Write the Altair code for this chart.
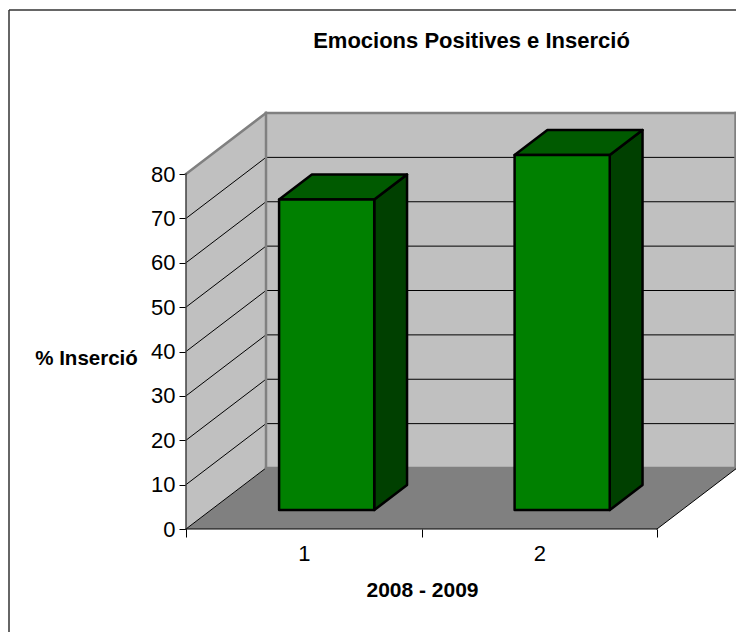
import altair as alt
import pandas as pd

categories = [1, 2]
values = [70, 80]
y_ticks = [0, 10, 20, 30, 40, 50, 60, 70, 80]
title_text = "Emocions Positives e Inserció"
x_title = "2008 - 2009"
y_title = "% Inserció"

Y_MAX = 80
CAT_PX = 235.5
DU = 80 / CAT_PX     # depth shift in category units
DV = 61 / 4.4375     # depth shift in value units
PW, PH = 550, 416
X_DOMAIN = [0, PW / CAT_PX]
Y_DOMAIN = [0, Y_MAX + DV]
FONT = "Liberation Sans"
WF, WB = 0.31, 0.72   # bar depth span
U0, U1 = 0.29, 0.694  # bar span within a category

xs = alt.Scale(domain=X_DOMAIN, nice=False, zero=False)
ys = alt.Scale(domain=Y_DOMAIN, nice=False, zero=False)

x_axis = alt.Axis(
    values=[0, 0.5, 1, 1.5, 2],
    labelExpr="datum.value == 0.5 ? '1' : datum.value == 1.5 ? '2' : ''",
    tickSize=8, tickColor="#000000", tickWidth=1,
    tickOpacity=alt.expr("datum.value % 1 === 0 ? 1 : 0"),
    domain=False, grid=False, labelFont=FONT, labelFontSize=22, labelColor="#000000",
    labelPadding=6, labelOverlap=False, labelFlush=False, labelAngle=0,
    title=x_title, titleFont=FONT, titleFontSize=21, titleFontWeight="bold", titleColor="#000000",
    titleX=236, titleY=61, titleBaseline="middle", titleAlign="center",
)
y_axis = alt.Axis(
    values=y_ticks, tickSize=7, tickColor="#000000", tickWidth=1,
    domain=False, grid=False, labelFont=FONT, labelFontSize=22, labelColor="#000000",
    labelPadding=4, labelOverlap=False,
    title=y_title, titleFont=FONT, titleFontSize=20.5, titleFontWeight="bold", titleColor="#000000",
    titleAngle=0, titleX=-100, titleY=245, titleAlign="center", titleBaseline="middle",
)


def X():
    return alt.X("x:Q", scale=xs, axis=x_axis)


def Y():
    return alt.Y("y:Q", scale=ys, axis=y_axis)


def vface(points, color, **kw):
    """Area with vertical extent: points = (x, y, y2)."""
    df = pd.DataFrame(points, columns=["x", "y", "y2"])
    return alt.Chart(df).mark_area(color=color, orient="vertical", **kw).encode(
        x=X(), y=Y(), y2="y2:Q")


def hface(points, color, **kw):
    """Area with horizontal extent: points = (y, x, x2)."""
    df = pd.DataFrame(points, columns=["y", "x", "x2"])
    return alt.Chart(df).mark_area(color=color, orient="horizontal", **kw).encode(
        y=Y(), x=X(), x2="x2:Q")


def seg(points, color, width):
    df = pd.DataFrame(points, columns=["x", "y", "g"])
    return alt.Chart(df).mark_line(color=color, strokeWidth=width, strokeCap="square").encode(
        x=X(), y=Y(), detail="g:N", order="x:Q")


layers = []
# walls and floor
layers.append(vface([(DU, DV, Y_MAX + DV), (2 + DU, DV, Y_MAX + DV)], "#C0C0C0"))
layers.append(vface([(0, 0, Y_MAX), (DU, DV, Y_MAX + DV)], "#C0C0C0"))
layers.append(hface([(0, 0, 2), (DV, DU, 2 + DU)], "#808080"))

# gridlines
grid_back, grid_left = [], []
for t in y_ticks[1:-1]:
    grid_back += [(DU, t + DV, t), (2 + DU, t + DV, t)]
for t in y_ticks:
    grid_left += [(0, t, t), (DU, t + DV, t)]
layers.append(seg(grid_back, "#000000", 1))
layers.append(seg(grid_left, "#000000", 1))

# wall borders
RIGHT = 2 + DU - 1.5 / CAT_PX
border = [
    (DU, DV, "a"), (DU, Y_MAX + DV, "a"),
    (0, Y_MAX, "b"), (DU, Y_MAX + DV, "b"),
    (DU, DV, "c"), (RIGHT, DV, "c"),
    (RIGHT, DV, "d"), (RIGHT, Y_MAX + DV, "d"),
    (DU, Y_MAX + DV, "e"), (RIGHT, Y_MAX + DV, "e"),
]
layers.append(seg(border, "#808080", 2.5))
# axis lines
layers.append(seg([(0, 0, "a"), (0, Y_MAX, "a")], "#404040", 1.5))
layers.append(seg([(0, 0, "a"), (2, 0, "a"), (2, 0, "b"), (2 + DU, DV, "b")], "#000000", 1))

# bars
STROKE = dict(stroke="#000000", strokeWidth=2.5, strokeJoin="round")
for i, v in enumerate(values):
    xl, xr = i + U0, i + U1
    fx0, fx1 = xl + WF * DU, xr + WF * DU
    bx1 = xr + WB * DU
    fb, bb = WF * DV, WB * DV
    layers.append(vface([(fx1, fb, fb + v), (bx1, bb, bb + v)], "#004000", **STROKE))
    layers.append(hface([(fb + v, fx0, fx1), (bb + v, xl + WB * DU, bx1)], "#005A00", **STROKE))
    layers.append(vface([(fx0, fb, fb + v), (fx1, fb, fb + v)], "#008000", **STROKE))

# frame (its other two sides lie outside the picture)
frame_left = alt.Chart(pd.DataFrame({"k": [0]})).mark_rule(color="#333333", strokeWidth=1.5).encode(
    x=alt.value(-177), y=alt.value(-103), y2=alt.value(519))
frame_top = alt.Chart(pd.DataFrame({"k": [0]})).mark_rule(color="#333333", strokeWidth=1.5).encode(
    x=alt.value(-177), x2=alt.value(550), y=alt.value(-103))
layers += [frame_left, frame_top]

chart = alt.layer(*layers).properties(
    width=PW, height=PH,
    title=alt.TitleParams(title_text, font=FONT, fontSize=22, fontWeight="bold", color="#000000",
                          anchor="middle", dx=10.5, offset=-61, baseline="alphabetic"),
    padding={"left": 178, "top": 105, "right": 0, "bottom": 103},
    autosize=alt.AutoSizeParams(type="none"),
).configure_view(stroke=None)

chart.save("out.html", embed_options={"renderer": "svg", "actions": False})
